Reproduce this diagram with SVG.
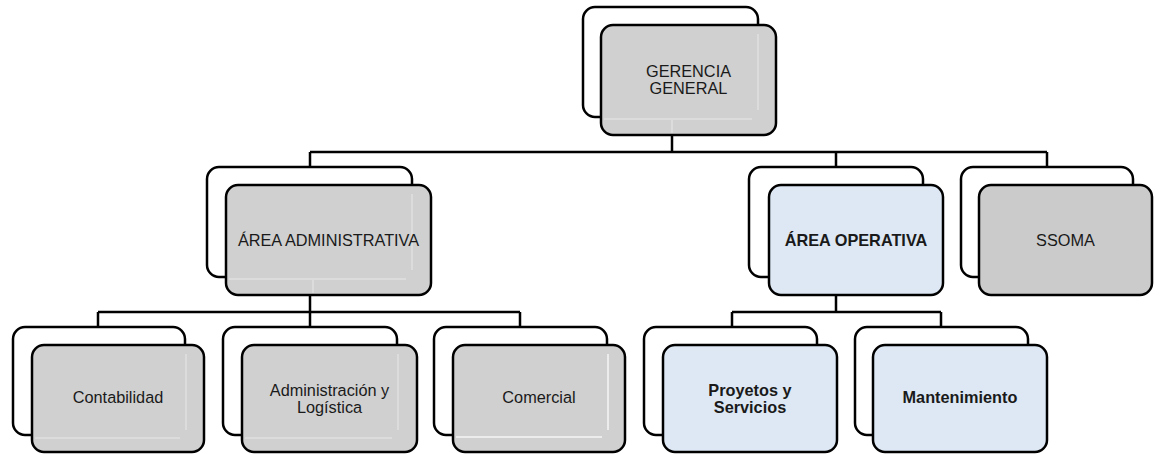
<svg xmlns="http://www.w3.org/2000/svg" width="1163" height="454" viewBox="0 0 1163 454">
<style>
.back{fill:#ffffff;stroke:#000;stroke-width:2.5}
.gray{fill:#d0d0d0;stroke:#000;stroke-width:2.5}
.ssoma{fill:#cbcbcb;stroke:#000;stroke-width:2.5}
.blue{fill:#dde8f4;stroke:#000;stroke-width:2.5}
.gl{fill:none;stroke:#dcdcdc;stroke-width:2}
.conn{fill:none;stroke:#000;stroke-width:2.5}
text{font-family:"Liberation Sans",Arial,sans-serif;font-size:16.3px;fill:#1a1a1a;text-anchor:middle}
.b{font-weight:bold}
</style>
<rect width="1163" height="454" fill="#fff"/>
<g id="connectors">
<path class="conn" d="M672 135V152M310 152H1047M310 152V167M836 152V167M1047 152V167"/>
<path class="conn" d="M310 295V327M98 312H520M98 312V327M520 312V327"/>
<path class="conn" d="M836 295V312M732 312H941M732 312V327M941 312V327"/>
</g>
<g id="gerencia">
<rect class="back" x="583" y="7" width="175" height="110" rx="12"/>
<rect class="gray" x="601" y="25" width="175" height="110" rx="12"/>
<path class="gl" d="M758 34V110M604 119H752M672 120V133"/>
<text x="688.5" y="77">GERENCIA</text>
<text x="688.5" y="94">GENERAL</text>
</g>
<g id="area-administrativa">
<rect class="back" x="207" y="167" width="205" height="110" rx="12"/>
<rect class="gray" x="226" y="185" width="205" height="110" rx="12"/>
<path class="gl" d="M412 194V270M229 279H406M313 280V293"/>
<text x="328.5" y="246">ÁREA ADMINISTRATIVA</text>
</g>
<g id="area-operativa">
<rect class="back" x="749" y="167" width="174" height="110" rx="12"/>
<rect class="blue" x="769" y="185" width="174" height="110" rx="12"/>
<text class="b" x="856" y="246">ÁREA OPERATIVA</text>
</g>
<g id="ssoma">
<rect class="back" x="961" y="167" width="172" height="110" rx="12"/>
<rect class="ssoma" x="979" y="185" width="173" height="110" rx="12"/>
<text x="1065.5" y="246">SSOMA</text>
</g>
<g id="contabilidad">
<rect class="back" x="13" y="327" width="172" height="108" rx="12"/>
<rect class="gray" x="32" y="345" width="172" height="107" rx="12"/>
<path class="gl" d="M186 354V430M35 438H180"/>
<text x="118" y="403">Contabilidad</text>
</g>
<g id="administracion-logistica">
<rect class="back" x="223" y="327" width="174" height="108" rx="12"/>
<rect class="gray" x="242" y="345" width="175" height="107" rx="12"/>
<path class="gl" d="M398 354V430M245 438H392"/>
<text x="329.5" y="396">Administración y</text>
<text x="329.5" y="413">Logística</text>
</g>
<g id="comercial">
<rect class="back" x="434" y="327" width="173" height="108" rx="12"/>
<rect class="gray" x="453" y="345" width="172" height="107" rx="12"/>
<path class="gl" d="M608 354V430M456 437H602" style="stroke:#ececec"/>
<text x="539" y="403">Comercial</text>
</g>
<g id="proyectos-servicios">
<rect class="back" x="644" y="327" width="173" height="108" rx="12"/>
<rect class="blue" x="663" y="345" width="174" height="107" rx="12"/>
<text class="b" x="750" y="396">Proyetos y</text>
<text class="b" x="750" y="413">Servicios</text>
</g>
<g id="mantenimiento">
<rect class="back" x="855" y="327" width="173" height="108" rx="12"/>
<rect class="blue" x="873" y="345" width="174" height="107" rx="12"/>
<text class="b" x="960" y="403">Mantenimiento</text>
</g>
</svg>
